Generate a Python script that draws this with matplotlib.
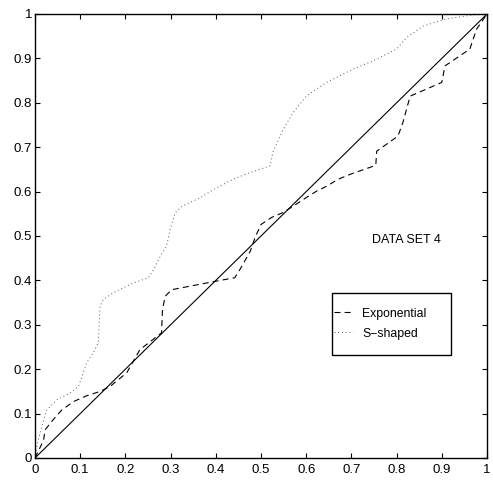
import matplotlib
matplotlib.use("Agg")
import matplotlib.pyplot as plt
from matplotlib.patches import Rectangle

plt.rcParams['font.family'] = ['Liberation Sans', 'DejaVu Sans']
plt.rcParams['lines.scale_dashes'] = False

# Reference line
diag_x = [0, 1]
diag_y = [0, 1]

# Exponential (dashed)
exp_x = [0.0, 0.019, 0.022, 0.04, 0.059, 0.085, 0.114, 0.144, 0.166, 0.203, 0.232,
         0.27, 0.28, 0.282, 0.288, 0.302, 0.394, 0.442, 0.453, 0.476, 0.487, 0.50,
         0.524, 0.549, 0.571, 0.593, 0.623, 0.645, 0.671, 0.70, 0.748, 0.754, 0.756,
         0.803, 0.814, 0.830, 0.90, 0.907, 0.962, 0.977, 1.0]
exp_y = [0.0, 0.04, 0.063, 0.086, 0.108, 0.127, 0.14, 0.15, 0.161, 0.192, 0.244,
         0.274, 0.282, 0.334, 0.364, 0.379, 0.397, 0.406, 0.424, 0.465, 0.497, 0.526,
         0.542, 0.553, 0.567, 0.582, 0.601, 0.612, 0.628, 0.640, 0.657, 0.660, 0.691,
         0.725, 0.756, 0.815, 0.846, 0.883, 0.921, 0.966, 1.0]

# S-shaped (dotted)
s_x = [0.0, 0.007, 0.015, 0.026, 0.048, 0.077, 0.096, 0.107, 0.114, 0.129, 0.14,
       0.144, 0.151, 0.173, 0.217, 0.251, 0.262, 0.277, 0.291, 0.299, 0.31, 0.325,
       0.365, 0.402, 0.439, 0.476, 0.52, 0.527, 0.549, 0.571, 0.601, 0.645, 0.704,
       0.749, 0.80, 0.822, 0.859, 0.911, 0.97, 1.0]
s_y = [0.0, 0.04, 0.071, 0.108, 0.131, 0.146, 0.161, 0.192, 0.214, 0.237, 0.26,
       0.342, 0.357, 0.372, 0.394, 0.406, 0.424, 0.454, 0.477, 0.515, 0.552, 0.567,
       0.586, 0.609, 0.628, 0.643, 0.658, 0.691, 0.74, 0.778, 0.816, 0.846, 0.876,
       0.895, 0.921, 0.947, 0.973, 0.989, 0.998, 1.0]

ticks = [0, 0.1, 0.2, 0.3, 0.4, 0.5, 0.6, 0.7, 0.8, 0.9, 1]
tick_labels = ['0', '0.1', '0.2', '0.3', '0.4', '0.5', '0.6', '0.7', '0.8', '0.9', '1']

fig = plt.figure(figsize=(4.93, 4.83), dpi=100)
ax = fig.add_axes([35/493, 1-458/483, (487-35)/493, (458-14)/483])

ax.plot(diag_x, diag_y, color='black', lw=0.8)
l1, = ax.plot(exp_x, exp_y, color='black', lw=0.8, label='Exponential')
l1.set_dashes([4.3, 3.0])
l2, = ax.plot(s_x, s_y, color='0.35', lw=0.7, label='S\u2212shaped')
l2.set_dashes([0.7, 2.0])

ax.set_xlim(0, 1)
ax.set_ylim(0, 1)
ax.set_xticks(ticks)
ax.set_xticklabels(tick_labels)
ax.set_yticks(ticks)
ax.set_yticklabels(tick_labels)
ax.tick_params(direction='in', length=3.6, width=0.8, top=True, right=True,
               labelsize=9.5, pad=2)
ax.tick_params(axis='x', pad=4)
for s in ax.spines.values():
    s.set_linewidth(1.0)

ax.text(0.745, 0.49, 'DATA SET 4', fontsize=9, ha='left', va='center')

# legend box
ax.add_patch(Rectangle((0.657, 0.2325), 0.263, 0.14, transform=ax.transAxes,
                       fill=False, edgecolor='black', lw=1.0, zorder=5))
leg = ax.legend(loc='center left', bbox_to_anchor=(0.661, 0.3025), fontsize=8.8,
                frameon=False, handlelength=1.55, borderpad=0, borderaxespad=0,
                handletextpad=0.8, labelspacing=0.65)

fig.savefig('out.png', dpi=100)
